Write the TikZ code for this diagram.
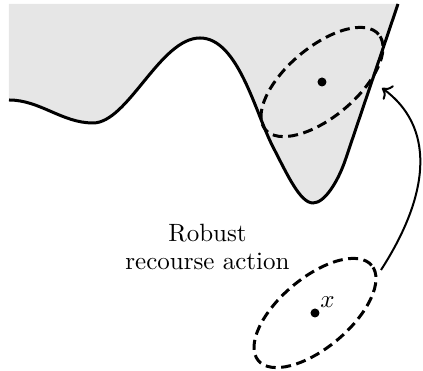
\documentclass[tikz,border=0pt]{standalone}
\usepackage{amsmath,amssymb}
\usepackage{xcolor}
\usepackage{tikz}
\usetikzlibrary{calc,arrows.meta,positioning}
\definecolor{feasible}{HTML}{E6E6E6}

\begin{document}
\begin{tikzpicture}[x=0.4pt,y=0.4pt,
    boundary/.style={line width=1.2pt},
    uncertain/.style={line width=1.2pt,dash pattern=on 4pt off 2.2pt},
    recourse/.style={-{To[length=3.5pt,width=7pt]},line width=0.8pt}]
  \useasboundingbox (0,0) rectangle (423,371);
  \fill[feasible] (9,367) -- (9,271) .. controls (40,271) and (62,248) .. (93,248)
    .. controls (128,248) and (160,333) .. (200,333)
    .. controls (238,333) and (255,259) .. (273,224)
    .. controls (287,197) and (300,168) .. (313,168)
    .. controls (325,168) and (338,190) .. (345,210) -- (398,367) -- cycle;
  \draw[boundary] (9,271) .. controls (40,271) and (62,248) .. (93,248)
    .. controls (128,248) and (160,333) .. (200,333)
    .. controls (238,333) and (255,259) .. (273,224)
    .. controls (287,197) and (300,168) .. (313,168)
    .. controls (325,168) and (338,190) .. (345,210) -- (398,367);
  \foreach \cx/\cy in {322/289,315/58} {
    \draw[uncertain,rotate around={40:(\cx,\cy)}] (\cx,\cy) ellipse[x radius=74,y radius=35];
    \fill (\cx,\cy) circle[radius=4.5];
  }
  \node[inner sep=0] (xlab) at (327.5,68.5) {$x$};
  \node[align=center,font=\fontsize{10}{11}\selectfont] (action) at (207.5,124) {Robust\\recourse action};
  \coordinate (launch) at (381,101);
  \coordinate (land) at (382,283);
  \draw[recourse] (launch) .. controls (432,180) and (434,245) .. (land);
\end{tikzpicture}
\end{document}
